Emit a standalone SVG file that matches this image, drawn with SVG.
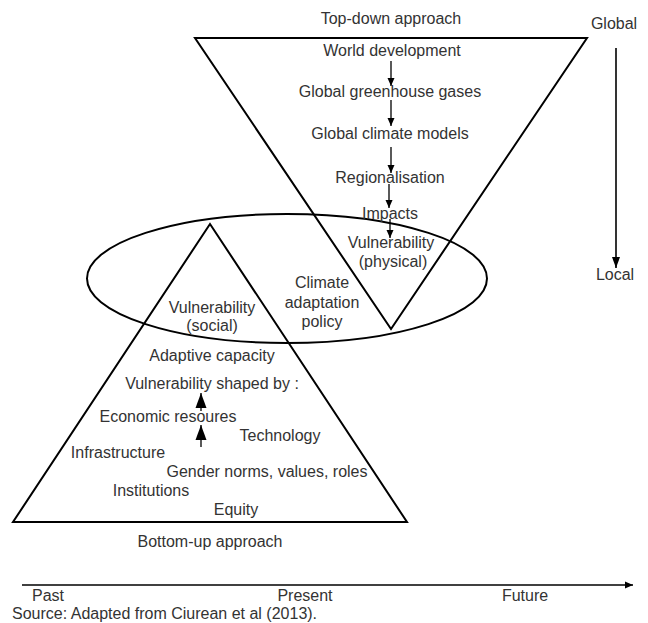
<svg xmlns="http://www.w3.org/2000/svg" width="648" height="623" viewBox="0 0 648 623">
<defs>
<style>
text{font-family:"Liberation Sans",Arial,sans-serif;font-size:16px;fill:#333;text-anchor:middle}
.st{text-anchor:start}
.shape{fill:none;stroke:#000;stroke-width:2;stroke-linejoin:miter}
.conn{fill:none;stroke:#000;stroke-width:1.3}
.axis{fill:none;stroke:#000;stroke-width:1.6}
</style>
<marker id="ahS" markerUnits="userSpaceOnUse" markerWidth="8" markerHeight="8" refX="8" refY="4" orient="auto"><path d="M0,0.5 L8,4 L0,7.5 z" fill="#000"/></marker>
<marker id="ahL" markerUnits="userSpaceOnUse" markerWidth="15" markerHeight="12" refX="15" refY="6" orient="auto"><path d="M0,0.5 L15,6 L0,11.5 z" fill="#000"/></marker>
<marker id="ahM" markerUnits="userSpaceOnUse" markerWidth="11" markerHeight="9" refX="11" refY="4.5" orient="auto"><path d="M0,0.5 L11,4.5 L0,8.5 z" fill="#000"/></marker>
</defs>
<rect width="648" height="623" fill="#fff"/>
<g id="shapes">
<polygon id="top-down-triangle" class="shape" points="195,38 587,38 391,329"/>
<polygon id="bottom-up-triangle" class="shape" points="210,224 407,522 13,522"/>
<ellipse id="policy-ellipse" class="shape" cx="287" cy="278.5" rx="200" ry="64.5"/>
</g>
<g id="connectors">
<line class="conn" x1="391" y1="61" x2="391" y2="86" marker-end="url(#ahS)"/>
<line class="conn" x1="391" y1="100" x2="391" y2="126" marker-end="url(#ahS)"/>
<line class="conn" x1="391" y1="147" x2="391" y2="173" marker-end="url(#ahS)"/>
<line class="conn" x1="389" y1="184" x2="389" y2="208" marker-end="url(#ahS)"/>
<line class="conn" x1="390" y1="219" x2="390" y2="238" marker-end="url(#ahS)"/>
<line class="conn" x1="201" y1="411" x2="201" y2="393" marker-end="url(#ahL)"/>
<line class="conn" x1="201" y1="447" x2="201" y2="425" marker-end="url(#ahL)"/>
<line class="axis" x1="616" y1="48" x2="616" y2="268" marker-end="url(#ahM)"/>
<line class="axis" x1="22" y1="585" x2="633" y2="585" marker-end="url(#ahS)"/>
</g>
<g id="n-topdown"><text x="391" y="24">Top-down approach</text></g>
<g id="n-global"><text x="614" y="29">Global</text></g>
<g id="n-local"><text x="615" y="280">Local</text></g>
<g id="n-world"><text x="392" y="56">World development</text></g>
<g id="n-ghg"><text x="390" y="97">Global greenhouse gases</text></g>
<g id="n-gcm"><text x="390" y="139">Global climate models</text></g>
<g id="n-region"><text x="390" y="183">Regionalisation</text></g>
<g id="n-impacts"><text x="390" y="219">Impacts</text></g>
<g id="n-vuln-phys"><text x="391" y="248">Vulnerability</text><text x="393" y="267">(physical)</text></g>
<g id="n-policy"><text x="322" y="288">Climate</text><text x="322" y="308">adaptation</text><text x="322" y="327">policy</text></g>
<g id="n-vuln-soc"><text x="212" y="313">Vulnerability</text><text x="212" y="331">(social)</text></g>
<g id="n-adaptive"><text x="212" y="361">Adaptive capacity</text></g>
<g id="n-shaped"><text x="212" y="389">Vulnerability shaped by :</text></g>
<g id="n-economic"><text x="168" y="422">Economic resoures</text></g>
<g id="n-technology"><text x="280" y="441">Technology</text></g>
<g id="n-infra"><text x="118" y="458">Infrastructure</text></g>
<g id="n-gender"><text x="267" y="477">Gender norms, values, roles</text></g>
<g id="n-institutions"><text x="151" y="496">Institutions</text></g>
<g id="n-equity"><text x="236" y="515">Equity</text></g>
<g id="n-bottomup"><text x="210" y="547">Bottom-up approach</text></g>
<g id="n-past"><text x="48" y="601">Past</text></g>
<g id="n-present"><text x="305" y="601">Present</text></g>
<g id="n-future"><text x="525" y="601">Future</text></g>
<g id="n-source"><text class="st" x="12" y="619">Source: Adapted from Ciurean et al (2013).</text></g>
</svg>
